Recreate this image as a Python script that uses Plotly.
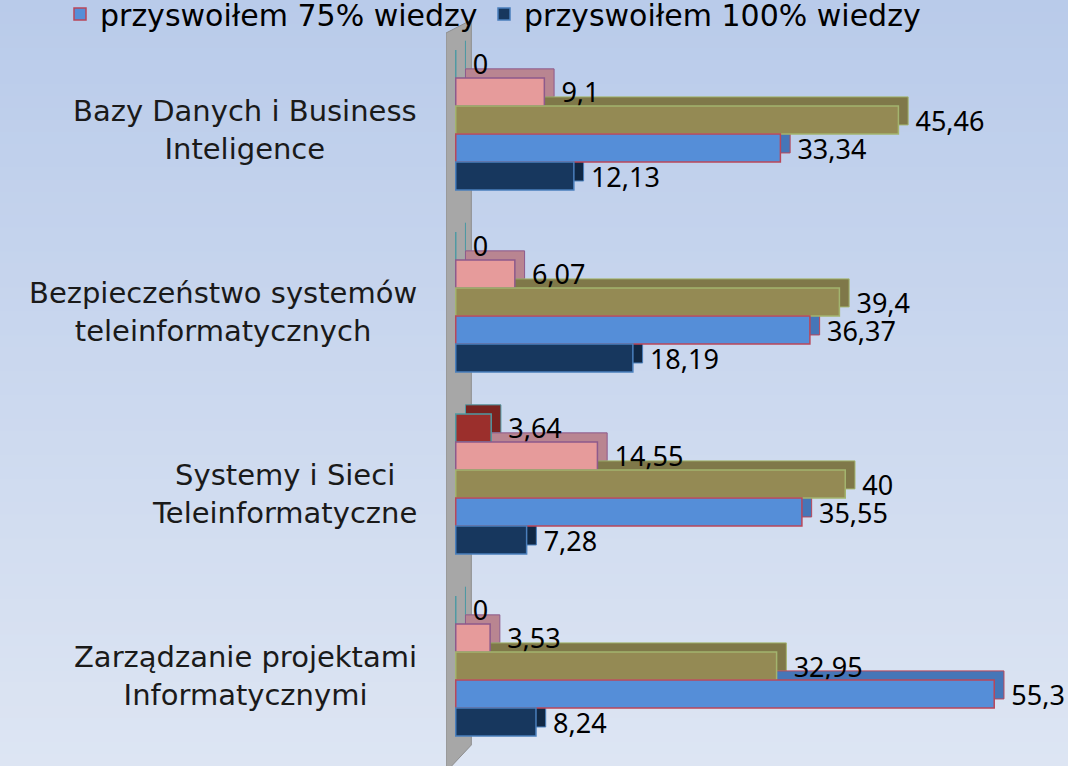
import plotly.graph_objects as go

categories = [
    "Bazy Danych i Business<br>Inteligence",
    "Bezpieczeństwo systemów<br>teleinformatycznych",
    "Systemy i Sieci<br>Teleinformatyczne",
    "Zarządzanie projektami<br>Informatycznymi",
]
series_names = [
    "przyswoiłem 0% wiedzy",
    "przyswoiłem 25% wiedzy",
    "przyswoiłem 50% wiedzy",
    "przyswoiłem 75% wiedzy",
    "przyswoiłem 100% wiedzy",
]
v0 = [0, 0, 3.64, 0]
v25 = [9.1, 6.07, 14.55, 3.53]
v50 = [45.46, 39.4, 40, 32.95]
v75 = [33.34, 36.37, 35.55, 55.3]
v100 = [12.13, 18.19, 7.28, 8.24]
labels0 = ["0", "0", "3,64", "0"]
labels25 = ["9,1", "6,07", "14,55", "3,53"]
labels50 = ["45,46", "39,4", "40", "32,95"]
labels75 = ["33,34", "36,37", "35,55", "55,3"]
labels100 = ["12,13", "18,19", "7,28", "8,24"]

values = [v0, v25, v50, v75, v100]
labels = [labels0, labels25, labels50, labels75, labels100]
fill_colors = ["#9b2f2c", "#e69b9b", "#948a54", "#558ed8", "#17375e"]
side_colors = ["#7a2320", "#b98591", "#7f7849", "#4676b8", "#102845"]
edge_colors = ["#4f9aa3", "#8d5a8c", "#a3b46e", "#b9475a", "#4a7fbc"]
legend_ids = [None, None, None, "legend", "legend2"]

W, H = 1068, 766
ML, MR, MT, MB = 446, 28, 29, 9
PW = W - ML - MR
PH = H - MT - MB

BAR_W = 0.154          # bar thickness in category units
GROUP_START = -2.5 * BAR_W
DEPTH_X = 1.0          # 3D depth in value units
DEPTH_Y = 0.05         # 3D depth in category units

fig = go.Figure()
# 3D side/top faces first (drawn behind the fronts)
for i, (vals, sc, ec) in enumerate(zip(values, side_colors, edge_colors)):
    fig.add_trace(go.Bar(
        y=categories, x=vals, base=DEPTH_X, orientation="h",
        width=BAR_W, offset=GROUP_START + i * BAR_W - DEPTH_Y,
        marker=dict(color=sc, line=dict(color=ec, width=1)),
        showlegend=False, hoverinfo="skip",
    ))
# front faces with value labels
for i, (name, vals, txt, fc, ec, lg) in enumerate(
        zip(series_names, values, labels, fill_colors, edge_colors, legend_ids)):
    kw = dict(showlegend=False) if lg is None else dict(showlegend=True, legend=lg)
    fig.add_trace(go.Bar(
        y=categories, x=vals, orientation="h", name=name,
        width=BAR_W, offset=GROUP_START + i * BAR_W,
        marker=dict(color=fc, line=dict(color=ec, width=1.5)),
        text=txt, texttemplate="  %{text}", textposition="outside",
        textfont=dict(family="Noto Sans", size=27, color="#000000"),
        constraintext="none",
        cliponaxis=False, hoverinfo="skip", **kw,
    ))


def py(ypx):
    return (H - MB - ypx) / PH


def px(xpx):
    return (xpx - ML) / PW


# background gradient bands
shapes = []
n = 64
top = (185, 203, 234)
bot = (221, 229, 243)
for i in range(n):
    t = i / (n - 1)
    c = tuple(int(round(top[k] + (bot[k] - top[k]) * t)) for k in range(3))
    shapes.append(dict(
        type="rect", xref="paper", yref="paper", layer="below",
        x0=px(-5), x1=px(W + 5),
        y0=py((i + 1) * H / n + 1), y1=py(i * H / n - (2 if i == 0 else 0)),
        fillcolor="rgb(%d,%d,%d)" % c, line=dict(width=0),
    ))

# gray back wall
shapes.append(dict(
    type="path", xref="x", yref="paper", layer="below",
    path="M -1,%f L 1.6,%f L 1.6,%f L -1,%f Z" % (py(33), py(20), py(745), py(772)),
    fillcolor="#a7a7a7", line=dict(color="#8e8e8e", width=1),
))

annotations = []
for cat in categories:
    annotations.append(dict(
        x=px(419), xref="paper", y=cat, yref="y",
        text=cat, showarrow=False, xanchor="right", yanchor="middle", align="center",
        yshift=-10,
        font=dict(family="DejaVu Sans", size=29, color="#1a1a1a"),
    ))

legend_style = dict(
    orientation="h", xref="container", yref="container",
    xanchor="left", y=1 - 14 / H, yanchor="middle",
    font=dict(family="DejaVu Sans", size=30, color="#000000"),
    bgcolor="rgba(0,0,0,0)", itemwidth=30,
)

fig.update_layout(
    width=W, height=H,
    margin=dict(l=ML, r=MR, t=MT, b=MB, autoexpand=False),
    barmode="overlay",
    plot_bgcolor="rgba(0,0,0,0)", paper_bgcolor="rgb(203,215,238)",
    shapes=shapes, annotations=annotations,
    legend=dict(x=60 / W, **legend_style),
    legend2=dict(x=484 / W, **legend_style),
    xaxis=dict(range=[-1, 60], visible=False, fixedrange=True),
    yaxis=dict(range=[3.5, -0.5], showticklabels=False, showgrid=False,
               zeroline=False, showline=False, ticks="", fixedrange=True),
)

fig.write_html(
    "out.html",
    config={"displayModeBar": False},
    post_script="document.body.style.margin='0';document.body.style.overflow='hidden';",
)
